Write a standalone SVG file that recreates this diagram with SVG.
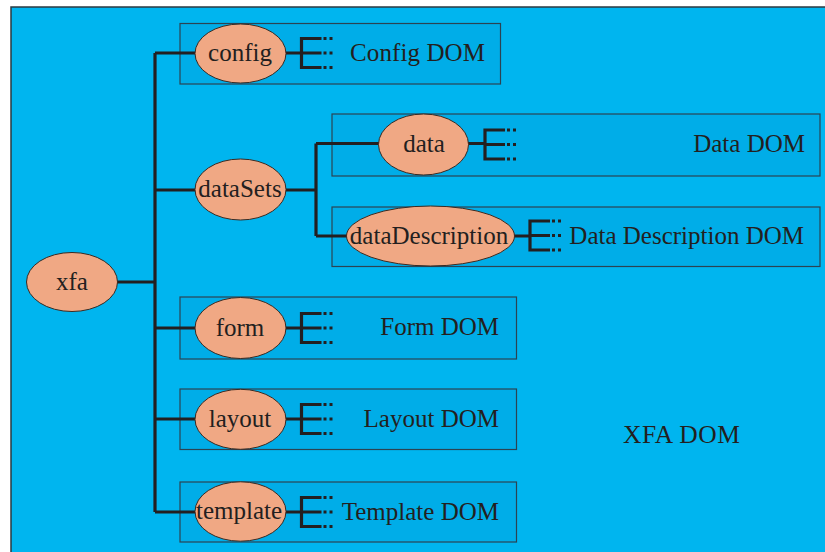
<svg xmlns="http://www.w3.org/2000/svg" width="825" height="552" viewBox="0 0 825 552">
<style>
.bg{fill:#00b5ef;stroke:#2b3a42;stroke-width:1.5}
.box{fill:#00ade8;stroke:#2b4352;stroke-width:1.2}
.el{fill:#f0a884;stroke:#3a2a22;stroke-width:1}
.ln{stroke:#231f20;stroke-width:3.2;fill:none}
.dot{stroke:#231f20;stroke-width:3;fill:none;stroke-dasharray:3 3}
text{font-family:"Liberation Serif","Times New Roman",serif;font-size:25px;fill:#231f20}
.c{text-anchor:middle}
</style>
<defs>
<g id="bracket">
<path class="ln" d="M20,-14.5 H0 V14.5 H20 M0,0 H20"/>
<path class="dot" d="M22,-14.5 H33 M22,0 H33 M22,14.5 H33"/>
</g>
</defs>
<rect class="bg" x="11" y="7" width="830" height="560"/>

<g id="config-dom-box"><rect class="box" x="180" y="23.5" width="320.5" height="60.5"/><text x="350" y="61" textLength="135">Config DOM</text></g>
<g id="data-dom-box"><rect class="box" x="332" y="114" width="488" height="62"/><text x="805" y="152" text-anchor="end">Data DOM</text></g>
<g id="datadesc-dom-box"><rect class="box" x="332" y="207" width="488" height="59.5"/><text x="804" y="244" text-anchor="end">Data Description DOM</text></g>
<g id="form-dom-box"><rect class="box" x="180" y="297" width="336.5" height="62"/><text x="499" y="335" text-anchor="end">Form DOM</text></g>
<g id="layout-dom-box"><rect class="box" x="180" y="389" width="336.5" height="60.5"/><text x="499" y="427" text-anchor="end">Layout DOM</text></g>
<g id="template-dom-box"><rect class="box" x="180" y="482" width="336.5" height="60"/><text x="499" y="520" text-anchor="end">Template DOM</text></g>
<g id="xfa-dom-label"><text x="623" y="443" style="font-size:25.5px" textLength="117">XFA DOM</text></g>

<g id="connectors">
<path class="ln" d="M117,282 H155 M155,53 V512 M155,53 H196 M155,190 H196 M155,328 H196 M155,419 H196 M155,512 H196"/>
<path class="ln" d="M286,190 H316 M316,143.5 V236 M316,143.5 H379 M316,236 H347"/>
<path class="ln" d="M285,53 H302 M285,328 H302 M285,419 H302 M285,512 H302 M467,143.5 H485 M514,236 H530"/>
<use href="#bracket" x="301.5" y="53"/>
<use href="#bracket" x="301.5" y="328"/>
<use href="#bracket" x="301.5" y="419"/>
<use href="#bracket" x="301.5" y="512"/>
<use href="#bracket" x="485" y="144.5"/>
<use href="#bracket" x="530" y="235.5"/>
</g>

<g id="xfa"><ellipse class="el" cx="72" cy="282" rx="45.5" ry="29.5"/><text class="c" x="72" y="290">xfa</text></g>
<g id="config"><ellipse class="el" cx="240.5" cy="53.5" rx="45.5" ry="29.5"/><text class="c" x="240" y="61">config</text></g>
<g id="dataSets"><ellipse class="el" cx="240.5" cy="189.5" rx="45.5" ry="30.5"/><text class="c" x="240" y="197">dataSets</text></g>
<g id="data"><ellipse class="el" cx="423.5" cy="144.5" rx="45" ry="30.5"/><text class="c" x="424" y="152">data</text></g>
<g id="dataDescription"><ellipse class="el" cx="430.5" cy="236" rx="84" ry="30"/><text class="c" x="429" y="244">dataDescription</text></g>
<g id="form"><ellipse class="el" cx="240.5" cy="328" rx="45.5" ry="30.5"/><text class="c" x="240" y="336">form</text></g>
<g id="layout"><ellipse class="el" cx="240.5" cy="419.3" rx="45.5" ry="30"/><text class="c" x="240" y="427">layout</text></g>
<g id="template"><ellipse class="el" cx="240.5" cy="511.5" rx="45.5" ry="29.7"/><text class="c" x="239" y="519">template</text></g>
</svg>
